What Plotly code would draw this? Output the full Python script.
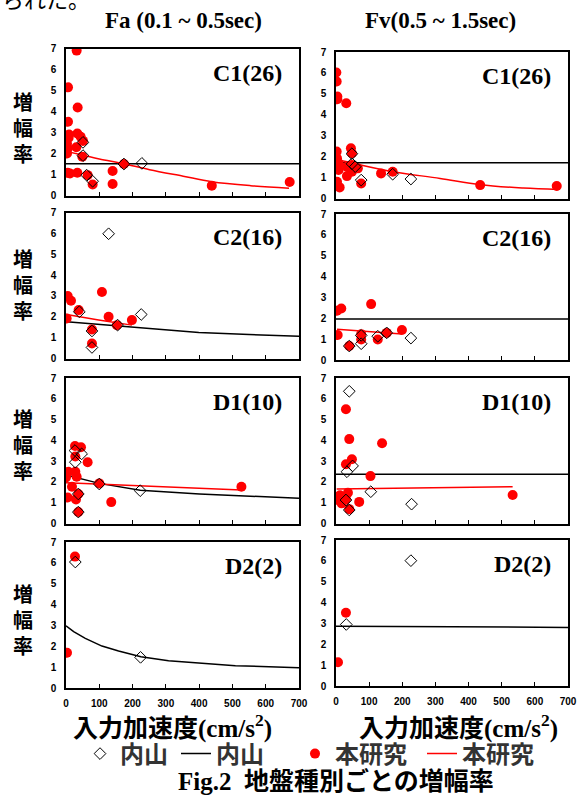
import plotly.graph_objects as go

W, H = 577, 796

# ---------------- data ----------------
# Fa C1
fa_c1_ours_x = [32, 6, 35, 6, 9, 34, 44, 3, 5, 31, 3, 49, 5, 12, 34, 65, 80, 140, 140, 174, 438, 672, 51, 8, 2]
fa_c1_ours_y = [6.9, 5.15, 4.19, 3.51, 2.9, 2.95, 2.8, 2.46, 2.25, 2.3, 2.0, 1.85, 1.08, 1.05, 1.08, 0.97, 0.52, 1.17, 0.55, 1.5, 0.47, 0.64, 2.6, 2.75, 2.15]
fa_c1_uchi_x = [51, 51, 62, 80, 174, 228]
fa_c1_uchi_y = [2.53, 1.9, 0.97, 0.68, 1.5, 1.53]
fa_c1_uchi_line_x = [0, 700]
fa_c1_uchi_line_y = [1.51, 1.51]
fa_c1_ours_line_x = [4, 49, 100, 174, 251, 352, 438, 554, 670]
fa_c1_ours_line_y = [2.09, 1.93, 1.74, 1.51, 1.23, 0.92, 0.66, 0.47, 0.35]

# Fv C1
fv_c1_ours_x = [1, 2, 4, 4, 31, 2, 3, 8, 0, 8, 3, 3, 11, 45, 48, 33, 33, 48, 66, 76, 136, 171, 435, 666, 48]
fv_c1_ours_y = [6.02, 5.59, 4.87, 4.74, 4.55, 2.24, 1.92, 1.68, 1.52, 1.36, 0.8, 0.64, 0.53, 2.4, 2.16, 1.52, 1.07, 1.28, 1.44, 0.72, 1.2, 1.28, 0.64, 0.6, 1.6]
fv_c1_uchi_x = [48, 48, 58, 76, 171, 226]
fv_c1_uchi_y = [2.14, 1.66, 1.52, 0.88, 1.16, 0.93]
fv_c1_uchi_line_x = [0, 700]
fv_c1_uchi_line_y = [1.71, 1.71]
fv_c1_ours_line_x = [5, 63, 171, 314, 435, 565, 671]
fv_c1_ours_line_y = [1.86, 1.64, 1.28, 0.96, 0.66, 0.5, 0.43]

# Fa C2
fa_c2_ours_x = [5, 15, 2, 38, 108, 128, 78, 78, 153, 198]
fa_c2_ours_y = [3.0, 2.77, 1.92, 2.32, 3.19, 2.0, 1.39, 0.72, 1.6, 1.84]
fa_c2_uchi_x = [128, 226, 40, 78, 78, 155]
fa_c2_uchi_y = [5.98, 2.11, 2.24, 1.32, 0.53, 1.6]
fa_c2_uchi_line_x = [2, 98, 155, 249, 399, 550, 700]
fa_c2_uchi_line_y = [1.76, 1.63, 1.57, 1.44, 1.25, 1.15, 1.07]
fa_c2_ours_line_x = [2, 98, 198]
fa_c2_ours_line_y = [2.11, 1.85, 1.6]

# Fv C2
fv_c2_ours_x = [3, 16, 106, 5, 40, 76, 76, 126, 153, 199]
fv_c2_ours_y = [2.36, 2.47, 2.68, 1.2, 0.67, 1.24, 0.98, 0.98, 1.3, 1.44]
fv_c2_uchi_x = [40, 76, 76, 126, 153, 226]
fv_c2_uchi_y = [0.67, 1.18, 0.78, 1.14, 1.3, 1.05]
fv_c2_uchi_line_x = [0, 700]
fv_c2_uchi_line_y = [1.97, 1.97]
fv_c2_ours_line_x = [3, 199]
fv_c2_ours_line_y = [1.47, 1.25]

# Fa D1
fa_d1_ours_x = [0, 7, 5, 18, 27, 45, 28, 28, 32, 30, 65, 100, 136, 527, 37, 37]
fa_d1_ours_y = [2.22, 2.49, 1.25, 1.77, 3.73, 3.67, 3.22, 2.49, 2.25, 1.16, 2.95, 1.93, 1.03, 1.77, 1.42, 0.55]
fa_d1_uchi_x = [27, 47, 28, 37, 37, 100, 223]
fa_d1_uchi_y = [3.51, 3.35, 2.95, 1.42, 0.55, 1.9, 1.58]
fa_d1_uchi_line_x = [0, 100, 223, 401, 700]
fa_d1_uchi_line_y = [2.33, 1.93, 1.6, 1.42, 1.21]
fa_d1_ours_line_x = [0, 527]
fa_d1_ours_line_y = [1.96, 1.61]

# Fv D1
fv_d1_ours_x = [30, 40, 139, 48, 30, 104, 2, 7, 17, 36, 40, 70, 533, 30, 12]
fv_d1_ours_y = [5.5, 4.06, 3.86, 3.09, 2.85, 2.28, 1.25, 1.13, 0.97, 1.48, 0.69, 1.04, 1.37, 1.16, 1.36]
fv_d1_uchi_x = [40, 50, 33, 30, 40, 105, 228]
fv_d1_uchi_y = [6.36, 2.77, 2.49, 1.13, 0.65, 1.53, 0.93]
fv_d1_uchi_line_x = [0, 700]
fv_d1_uchi_line_y = [2.37, 2.37]
fv_d1_ours_line_x = [2, 533]
fv_d1_ours_line_y = [1.66, 1.77]

# Fa D2
fa_d2_ours_x = [27, 3]
fa_d2_ours_y = [6.3, 1.69]
fa_d2_uchi_x = [28, 224]
fa_d2_uchi_y = [6.04, 1.47]
fa_d2_uchi_line_x = [0, 23, 58, 108, 158, 225, 308, 409, 509, 700]
fa_d2_uchi_line_y = [2.98, 2.7, 2.38, 2.01, 1.77, 1.5, 1.31, 1.18, 1.07, 0.97]
fa_d2_ours_line_x = []
fa_d2_ours_line_y = []

# Fv D2
fv_d2_ours_x = [30, 6]
fv_d2_ours_y = [3.51, 1.14]
fv_d2_uchi_x = [31, 226]
fv_d2_uchi_y = [2.95, 6.01]
fv_d2_uchi_line_x = [0, 700]
fv_d2_uchi_line_y = [2.87, 2.81]
fv_d2_ours_line_x = []
fv_d2_ours_line_y = []

panel_labels = ["C1(26)", "C1(26)", "C2(16)", "C2(16)", "D1(10)", "D1(10)", "D2(2)", "D2(2)"]
column_titles = ["Fa (0.1 ~ 0.5sec)", "Fv(0.5 ~ 1.5sec)"]
x_ticks = [0, 100, 200, 300, 400, 500, 600, 700]
y_ticks = [0, 1, 2, 3, 4, 5, 6, 7]
legend_names = ["内山", "内山", "本研究", "本研究"]

panels = [
    (fa_c1_ours_x, fa_c1_ours_y, fa_c1_uchi_x, fa_c1_uchi_y, fa_c1_uchi_line_x, fa_c1_uchi_line_y, fa_c1_ours_line_x, fa_c1_ours_line_y),
    (fv_c1_ours_x, fv_c1_ours_y, fv_c1_uchi_x, fv_c1_uchi_y, fv_c1_uchi_line_x, fv_c1_uchi_line_y, fv_c1_ours_line_x, fv_c1_ours_line_y),
    (fa_c2_ours_x, fa_c2_ours_y, fa_c2_uchi_x, fa_c2_uchi_y, fa_c2_uchi_line_x, fa_c2_uchi_line_y, fa_c2_ours_line_x, fa_c2_ours_line_y),
    (fv_c2_ours_x, fv_c2_ours_y, fv_c2_uchi_x, fv_c2_uchi_y, fv_c2_uchi_line_x, fv_c2_uchi_line_y, fv_c2_ours_line_x, fv_c2_ours_line_y),
    (fa_d1_ours_x, fa_d1_ours_y, fa_d1_uchi_x, fa_d1_uchi_y, fa_d1_uchi_line_x, fa_d1_uchi_line_y, fa_d1_ours_line_x, fa_d1_ours_line_y),
    (fv_d1_ours_x, fv_d1_ours_y, fv_d1_uchi_x, fv_d1_uchi_y, fv_d1_uchi_line_x, fv_d1_uchi_line_y, fv_d1_ours_line_x, fv_d1_ours_line_y),
    (fa_d2_ours_x, fa_d2_ours_y, fa_d2_uchi_x, fa_d2_uchi_y, fa_d2_uchi_line_x, fa_d2_uchi_line_y, fa_d2_ours_line_x, fa_d2_ours_line_y),
    (fv_d2_ours_x, fv_d2_ours_y, fv_d2_uchi_x, fv_d2_uchi_y, fv_d2_uchi_line_x, fv_d2_uchi_line_y, fv_d2_ours_line_x, fv_d2_ours_line_y),
]

# ---------------- layout geometry (pixels) ----------------
col_x = [(66, 299), (336, 568)]
row_y = {
    0: [(48.5, 195.5), (212.5, 358.5), (378, 523.5), (542, 688)],
    1: [(52, 198.5), (214, 360), (378, 523.5), (540, 686)],
}
row_label_cy = [127, 284, 444, 619]

def px(x):
    return x / W

def py(y):
    return 1 - y / H

RED = "#ff0000"
SERIF_CJK = "Liberation Serif, 'Noto Sans CJK JP'"
CJK = "'Noto Sans CJK JP'"

fig = go.Figure()
layout = dict(
    width=W, height=H,
    margin=dict(l=0, r=0, t=0, b=0, autoexpand=False),
    paper_bgcolor="white", plot_bgcolor="white",
    showlegend=True,
)
annotations = []

for i, p in enumerate(panels):
    ox, oy, ux, uy, ulx, uly, olx, oly = p
    n = i + 1
    col = i % 2
    row = i // 2
    xa = "x" if n == 1 else f"x{n}"
    ya = "y" if n == 1 else f"y{n}"
    first = (i == 0)

    fig.add_trace(go.Scatter(x=ulx, y=uly, mode="lines", xaxis=xa, yaxis=ya,
                             line=dict(color="black", width=1.5), name=legend_names[1],
                             showlegend=first, legend="legend2"))
    if len(olx):
        fig.add_trace(go.Scatter(x=olx, y=oly, mode="lines", xaxis=xa, yaxis=ya,
                                 line=dict(color=RED, width=1.5, shape="spline"), name=legend_names[3],
                                 showlegend=first, legend="legend4"))
    fig.add_trace(go.Scatter(x=ox, y=oy, mode="markers", xaxis=xa, yaxis=ya,
                             marker=dict(color=RED, size=10, symbol="circle"), name=legend_names[2],
                             showlegend=first, legend="legend3"))
    fig.add_trace(go.Scatter(x=ux, y=uy, mode="markers", xaxis=xa, yaxis=ya,
                             marker=dict(color="black", size=9, symbol="diamond-open", line=dict(width=1)),
                             name=legend_names[0], showlegend=first, legend="legend"))

    x0, x1 = col_x[col]
    yt, yb = row_y[col][row]
    axis_common = dict(showline=True, mirror=True, linecolor="black", linewidth=1.5,
                       showgrid=False, zeroline=False)
    layout["xaxis" if n == 1 else f"xaxis{n}"] = dict(
        domain=[px(x0), px(x1)], anchor=ya, range=[0, 700], tickvals=x_ticks,
        ticks="inside", ticklen=4, tickcolor="black", tickwidth=1,
        showticklabels=(row == 3), ticklabelstandoff=5,
        tickfont=dict(family="Liberation Sans", size=10, color="black", weight="bold"),
        **axis_common)
    layout["yaxis" if n == 1 else f"yaxis{n}"] = dict(
        domain=[py(yb), py(yt)], anchor=xa, range=[0, 7], tickvals=y_ticks,
        ticks="", ticklabelstandoff=6,
        tickfont=dict(family="Liberation Sans", size=10, color="black", weight="bold"),
        **axis_common)

    # panel label
    annotations.append(dict(text=panel_labels[i], x=px(x1 - 15), y=py(yt + 24),
                            xref="paper", yref="paper", xanchor="right", yanchor="middle",
                            showarrow=False,
                            font=dict(family="Liberation Serif", size=24, color="black", weight="bold")))
    # row label (left column only)
    if col == 0:
        annotations.append(dict(text="増<br>幅<br>率", x=px(23), y=py(row_label_cy[row]),
                                xref="paper", yref="paper", xanchor="center", yanchor="middle",
                                showarrow=False,
                                font=dict(family=CJK, size=20, color="black", weight="bold")))

# column titles
annotations.append(dict(text=column_titles[0], x=px(184), y=py(20), xref="paper", yref="paper",
                        xanchor="center", yanchor="middle", showarrow=False,
                        font=dict(family="Liberation Serif", size=23, color="black", weight="bold")))
annotations.append(dict(text=column_titles[1], x=px(440), y=py(20), xref="paper", yref="paper",
                        xanchor="center", yanchor="middle", showarrow=False,
                        font=dict(family="Liberation Serif", size=23, color="black", weight="bold")))
# x axis titles
for cx in (172, 459):
    annotations.append(dict(text="入力加速度(cm/s<sup>2</sup>)", x=px(cx), y=py(726),
                            xref="paper", yref="paper", xanchor="center", yanchor="middle",
                            showarrow=False,
                            font=dict(family=SERIF_CJK, size=25, color="black", weight="bold")))
# caption
annotations.append(dict(text="Fig.2  地盤種別ごとの増幅率", x=px(336), y=py(781),
                        xref="paper", yref="paper", xanchor="center", yanchor="middle",
                        showarrow=False,
                        font=dict(family=SERIF_CJK, size=25, color="black", weight="bold")))
# clipped text from the previous line of the page
annotations.append(dict(text="られた。", x=0, y=py(-2), xref="paper", yref="paper",
                        xanchor="left", yanchor="middle", showarrow=False,
                        font=dict(family=CJK, size=22, color="black")))

layout["annotations"] = annotations

legend_font = dict(family=CJK, size=24, color="#333333", weight="bold")
legend_left = [80, 176, 295, 422]
for k, lx in enumerate(legend_left):
    key = "legend" if k == 0 else f"legend{k + 1}"
    layout[key] = dict(orientation="h", x=px(lx), xanchor="left", y=py(754), yanchor="middle",
                       font=legend_font, bgcolor="rgba(0,0,0,0)", itemsizing="trace",
                       borderwidth=0)
fig.update_layout(**layout)

fig.write_html("out.html",
               config={"displayModeBar": False},
               post_script="document.body.style.margin='0';document.body.style.padding='0';")
